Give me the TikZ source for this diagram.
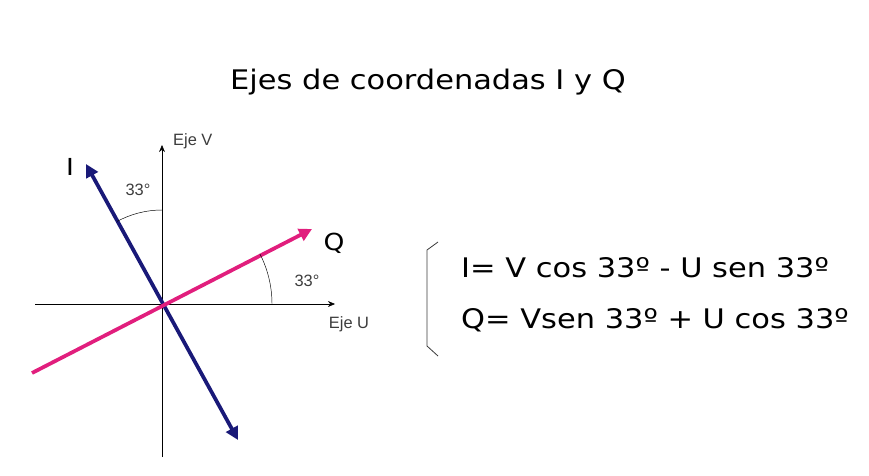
\documentclass[tikz,border=0pt]{standalone}
\usepackage{fontspec}
\setmainfont[FakeStretch=1.13]{DejaVu Sans}
\newfontfamily\arialfont{Liberation Sans}
\usetikzlibrary{arrows.meta}
\definecolor{azulI}{RGB}{25,25,120}
\definecolor{rosaQ}{RGB}{225,30,125}
\definecolor{grisT}{RGB}{60,60,60}
\tikzset{
  eje/.style={thin, -{Stealth[length=6pt,width=5pt]}},
  vector/.style={line width=3.2pt, -{Triangle[length=11pt,width=11pt]}},
  etiqueta/.style={font=\arialfont\fontsize{14}{16}\selectfont, text=grisT, inner sep=0pt},
  grande/.style={font=\fontsize{23}{28}\selectfont, inner sep=0pt},
}
\begin{document}
\begin{tikzpicture}[x=0.03cm, y=-0.03cm]
    \useasboundingbox (0,0) rectangle (869,475);
    % Titulo
    \node[grande] (titulo) at (428,82) {Ejes de coordenadas I y Q};
    % Ejes
    \coordinate (O) at (162,304);
    \coordinate (uizq) at (35,304);
    \coordinate (uder) at (335,304);
    \coordinate (vsup) at (162,145);
    \coordinate (vinf) at (162,457);
    \draw[eje] (uizq) -- (uder);
    \draw[eje] (vinf) -- (vsup);
    \node[etiqueta, anchor=west] (ejeV) at (173,141) {Eje V};
    \node[etiqueta] (ejeU) at (349,324) {Eje U};
    % Vectores
    \coordinate (iini) at (238,440);
    \coordinate (ifin) at (86,164);
    \coordinate (qini) at (32,373);
    \coordinate (qfin) at (312,229);
    \draw[vector, azulI, {Triangle[length=11pt,width=11pt]}-{Triangle[length=11pt,width=11pt]}] (iini) -- (ifin);
    \draw[vector, rosaQ] (qini) -- (qfin);
    \node[grande, font=\fontsize{20}{24}\selectfont] (labI) at (70,167) {I};
    \node[grande, font=\fontsize{20}{24}\selectfont] (labQ) at (334,243) {Q};
    % Angulos
    \draw[thin] (162,210) arc[start angle=-90, end angle=-118.6, radius=94];
    \draw[thin] (272,304) arc[start angle=0, end angle=-27.2, radius=110];
    \node[etiqueta] (angV) at (138,190) {33°};
    \node[etiqueta] (angU) at (307,281) {33°};
    % Ecuaciones
    \draw[line width=0.7pt, grisT] (438,242) -- (427,250) -- (427,346) -- (438,356);
    \node[grande, anchor=west] (ecI) at (461,268) {I= V cos 33º - U sen 33º};
    \node[grande, anchor=west] (ecQ) at (461,320) {Q= Vsen 33º + U cos 33º};
\end{tikzpicture}
\end{document}
